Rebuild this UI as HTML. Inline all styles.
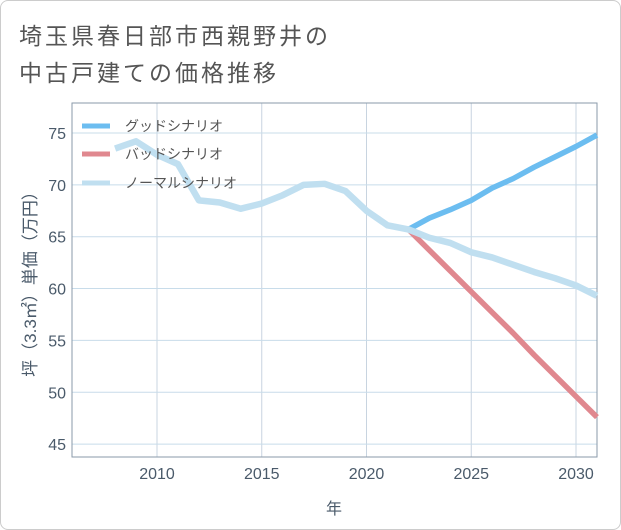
<!DOCTYPE html>
<html><head><meta charset="utf-8"><style>
html,body{margin:0;padding:0;background:#fff;}
#frame{position:absolute;left:0;top:0;width:619px;height:528px;border:1px solid #ccc;border-radius:8px;overflow:hidden;}
.title{position:absolute;left:18px;font:23px "Liberation Sans","Noto Sans CJK JP",sans-serif;color:#555;letter-spacing:3px;white-space:nowrap;}
svg{position:absolute;left:0;top:0;}
text{font-family:"Liberation Sans","Noto Sans CJK JP",sans-serif;}
</style></head><body>
<div id="frame">
<div class="title" style="top:16px">埼玉県春日部市西親野井の</div>
<div class="title" style="top:53px">中古戸建ての価格推移</div>
</div>
<svg id="chart" width="621" height="530"></svg>
<script>
const years=[2008,2009,2010,2011,2012,2013,2014,2015,2016,2017,2018,2019,2020,2021,2022,2023,2024,2025,2026,2027,2028,2029,2030,2031];
const normal=[73.5,74.2,72.9,72.0,68.5,68.3,67.7,68.2,69.0,70.0,70.1,69.4,67.5,66.1,65.7,64.9,64.4,63.5,63.0,62.3,61.6,61.0,60.3,59.3];
const goodYears=[2022,2023,2024,2025,2026,2027,2028,2029,2030,2031];
const good=[65.7,66.8,67.6,68.5,69.7,70.6,71.7,72.7,73.7,74.8];
const bad=[65.7,63.7,61.7,59.7,57.7,55.7,53.6,51.6,49.6,47.6];
const xTicks=[2010,2015,2020,2025,2030];
const yTicks=[45,50,55,60,65,70,75];
const L=72,R=597,T=103,B=457;
const xs=y=>157+(y-2010)*20.95;
const ys=v=>133+(75-v)*10.37;
const svg=document.getElementById('chart');
const NS='http://www.w3.org/2000/svg';
function mk(t,a){const e=document.createElementNS(NS,t);for(const k in a)e.setAttribute(k,a[k]);svg.appendChild(e);return e;}
xTicks.forEach(v=>{const g=mk('line',{x1:xs(v),x2:xs(v),y1:T,y2:B,stroke:'#c8d4e0','stroke-width':1});


const t=mk('text',{x:xs(v),y:B+22,'text-anchor':'middle','font-size':16,fill:'#4a5a6a'});t.textContent=v;

});
yTicks.forEach(v=>{const g=mk('line',{x1:L,x2:R,y1:ys(v),y2:ys(v),stroke:'#c8dcea','stroke-width':1});


const t=mk('text',{x:L-6,y:ys(v)+6,'text-anchor':'end','font-size':16,fill:'#4a5a6a'});t.textContent=v;

});
const ax=mk('rect',{x:L,y:T,width:R-L,height:B-T,fill:'none',stroke:'#8a9aaa','stroke-width':1});


function path(xv,yv){return xv.map((x,i)=>(i?'L':'M')+xs(x)+' '+ys(yv[i])).join(' ');}
const pb=mk('path',{d:path(goodYears,bad),fill:'none',stroke:'#e0888f','stroke-width':5.5,'stroke-linejoin':'round'});


const pg=mk('path',{d:path(goodYears,good),fill:'none',stroke:'#6cbdf0','stroke-width':5.5,'stroke-linejoin':'round'});


const pn=mk('path',{d:path(years,normal),fill:'none',stroke:'#c0dff0','stroke-width':6.5,'stroke-linejoin':'round'});


const leg=[['グッドシナリオ','#6cbdf0',126],['バッドシナリオ','#e0888f',154],['ノーマルシナリオ','#c0dff0',183]];
leg.forEach(([n,c,y])=>{const l=mk('line',{x1:82,x2:110,y1:y,y2:y,stroke:c,'stroke-width':5});


const t=mk('text',{x:125,y:y+5,'font-size':14,fill:'#555'});t.textContent=n;

});
const xt=mk('text',{x:334,y:514,'text-anchor':'middle','font-size':16,fill:'#4a5a6a'});xt.textContent='年';


const yt=mk('text',{x:0,y:0,'text-anchor':'middle','font-size':17,fill:'#4a5a6a',transform:'translate(36,280) rotate(-90)'});yt.textContent='坪（3.3㎡）単価（万円）';


</script>
</body></html>
